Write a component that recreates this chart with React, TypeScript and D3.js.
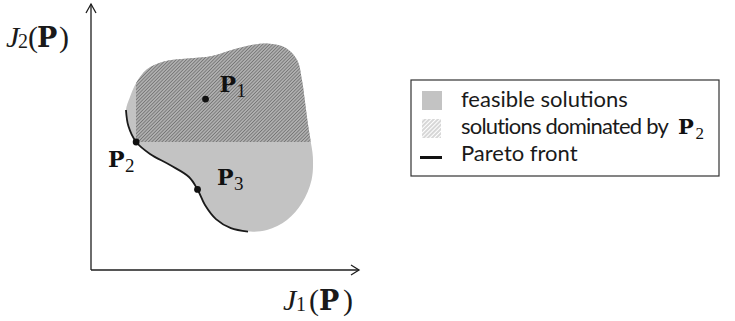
import React from 'react';
import * as d3 from 'd3';

// Pareto front (lower-left boundary of the feasible set), in (J1, J2) units
const paretoJ1 = [1.31, 1.40, 1.69, 2.21, 2.96, 3.67, 3.99, 4.27, 4.68, 5.24, 5.88];
const paretoJ2 = [6.04, 5.43, 4.83, 4.38, 3.96, 3.51, 3.04, 2.45, 1.92, 1.58, 1.45];
// Rest of the feasible-set boundary (bottom-right, around the top, back to the left)
const outerJ1 = [6.59, 7.34, 7.90, 8.26, 8.31, 8.22, 8.13, 8.03, 7.90, 7.72, 7.30, 6.59, 5.84, 5.09, 4.53, 3.63, 2.73, 2.10, 1.69, 1.46];
const outerJ2 = [1.51, 1.89, 2.53, 3.40, 4.26, 4.91, 5.47, 6.23, 7.17, 7.92, 8.38, 8.55, 8.45, 8.25, 8.08, 7.98, 7.87, 7.58, 7.06, 6.53];

// Marked solutions
const pointNames = ['1', '2', '3'];
const pointJ1 = [4.29, 1.69, 3.99];
const pointJ2 = [6.45, 4.83, 3.04];

const legendLabels = ['feasible solutions', 'solutions dominated by', 'Pareto front'];

const W = 735;
const H = 321;

export default function App() {
  const x = d3.scaleLinear().domain([0, 10]).range([91, 358]);
  const y = d3.scaleLinear().domain([0, 10]).range([270, 5]);

  const regionPts: [number, number][] = [
    ...paretoJ1.map((v, i) => [v, paretoJ2[i]] as [number, number]),
    ...outerJ1.map((v, i) => [v, outerJ2[i]] as [number, number]),
  ];
  const closed = d3
    .line<[number, number]>()
    .x((d) => x(d[0]))
    .y((d) => y(d[1]))
    .curve(d3.curveCatmullRomClosed.alpha(0.5));
  const open = d3
    .line<[number, number]>()
    .x((d) => x(d[0]))
    .y((d) => y(d[1]))
    .curve(d3.curveCatmullRom.alpha(0.5));
  const regionPath = closed(regionPts) || '';
  const paretoPath = open(paretoJ1.map((v, i) => [v, paretoJ2[i]] as [number, number])) || '';

  const p2x = x(pointJ1[1]);
  const p2y = y(pointJ2[1]);

  const labelOffsets = [
    [14, -7],
    [-28, 25],
    [19.5, -4.5],
  ];

  const axisColor = '#1e1e1e';
  const serif = '"Liberation Serif", "Times New Roman", serif';
  const boldSerif = '"DejaVu Serif", "Liberation Serif", serif';
  const sans = 'Lato, "Open Sans", sans-serif';

  const legX = 411;
  const legY = 80;
  const legW = 308;
  const legH = 96;
  const rowBase = [107, 134, 161];
  const rowSpacing = [0, -0.8, 0];

  return (
    <svg
      width={W}
      height={H}
      style={{ position: 'absolute', left: 0, top: 0, background: '#fff' }}
    >
      <defs>
        <pattern id="hatchDark" patternUnits="userSpaceOnUse" width={2.4} height={2.4} patternTransform="rotate(45)">
          <rect width={2.4} height={2.4} fill="#c2c2c2" />
          <line x1={1.2} y1={0} x2={1.2} y2={2.4} stroke="#747474" strokeWidth={1.2} />
        </pattern>
        <pattern id="hatchLight" patternUnits="userSpaceOnUse" width={3} height={3} patternTransform="rotate(45)">
          <rect width={3} height={3} fill="#ffffff" />
          <line x1={1} y1={0} x2={1} y2={3} stroke="#bdbdbd" strokeWidth={1.2} />
        </pattern>
        <clipPath id="dominated">
          <rect x={p2x} y={0} width={W - p2x} height={p2y} />
        </clipPath>
      </defs>

      {/* feasible region */}
      <path d={regionPath} fill="#c3c3c3" />
      {/* dominated by P2 */}
      <path d={regionPath} fill="url(#hatchDark)" clipPath="url(#dominated)" />
      {/* Pareto front */}
      <path d={paretoPath} fill="none" stroke="#1a1a1a" strokeWidth={1.8} />

      {/* axes */}
      <g stroke={axisColor} strokeWidth={1.3} fill="none">
        <line x1={x(0)} y1={y(0)} x2={x(0)} y2={4} />
        <polyline points={`${x(0) - 5},13 ${x(0)},4 ${x(0) + 5},13`} />
        <line x1={x(0)} y1={y(0)} x2={359} y2={y(0)} />
        <polyline points={`351,${y(0) - 5} 359,${y(0)} 351,${y(0) + 5}`} />
      </g>

      {/* axis labels */}
      <g fill="#1a1a1a" fontFamily={serif}>
        <text x={6} y={47} fontSize={30} fontStyle="italic">J</text>
        <text x={18} y={48} fontSize={20}>2</text>
        <text x={28} y={47} fontSize={30}>(</text>
        <text x={37} y={47} fontSize={27} fontWeight="bold" fontFamily={boldSerif}>P</text>
        <text x={59} y={47} fontSize={30}>)</text>

        <text x={283} y={310} fontSize={30} fontStyle="italic">J</text>
        <text x={296} y={311} fontSize={20}>1</text>
        <text x={309} y={310} fontSize={30}>(</text>
        <text x={319} y={310} fontSize={27} fontWeight="bold" fontFamily={boldSerif}>P</text>
        <text x={343} y={310} fontSize={30}>)</text>
      </g>

      {/* points and labels */}
      {pointNames.map((n, i) => {
        const px = x(pointJ1[i]);
        const py = y(pointJ2[i]);
        const [dx, dy] = labelOffsets[i];
        return (
          <g key={n}>
            <circle cx={px} cy={py} r={3.4} fill="#111" />
            <text x={px + dx} y={py + dy} fontFamily={boldSerif} fontSize={22} fontWeight="bold" fill="#111">P</text>
            <text x={px + dx + 17} y={py + dy + 5} fontFamily={serif} fontSize={19} fill="#111">{n}</text>
          </g>
        );
      })}

      {/* legend */}
      <rect x={legX} y={legY} width={legW} height={legH} fill="#fff" stroke="#333" strokeWidth={1.2} />
      <rect x={422} y={91} width={20} height={19} fill="#c3c3c3" />
      <rect x={422} y={119} width={19} height={19} fill="url(#hatchLight)" />
      <line x1={420} y1={157.5} x2={442} y2={157.5} stroke="#111" strokeWidth={3} />
      <g fontFamily={sans} fontSize={22} fill="#1a1a1a">
        {legendLabels.map((t, i) => (
          <text key={t} x={461} y={rowBase[i]} letterSpacing={rowSpacing[i]}>{t}</text>
        ))}
      </g>
      <text x={678} y={rowBase[1]} fontFamily={boldSerif} fontSize={21} fontWeight="bold" fill="#111">P</text>
      <text x={695.5} y={rowBase[1] + 5} fontFamily={serif} fontSize={17} fill="#111">2</text>
    </svg>
  );
}
